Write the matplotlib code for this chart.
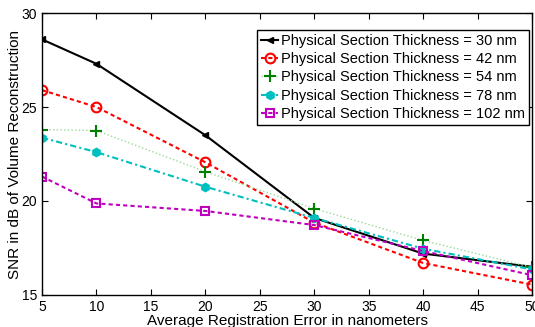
import matplotlib
matplotlib.use("Agg")
import matplotlib.pyplot as plt

plt.rcParams['font.family'] = ['Liberation Sans', 'DejaVu Sans']

errors = [5, 10, 20, 30, 40, 50]
snr_30 = [28.6, 27.3, 23.5, 19.1, 17.2, 16.5]
snr_42 = [25.9, 25.0, 22.06, 18.85, 16.7, 15.55]
snr_54 = [23.8, 23.75, 21.56, 19.6, 17.9, 16.47]
snr_78 = [23.37, 22.6, 20.76, 19.1, 17.46, 16.36]
snr_102 = [21.3, 19.87, 19.47, 18.72, 17.34, 16.05]
labels = ["Physical Section Thickness = 30 nm",
          "Physical Section Thickness = 42 nm",
          "Physical Section Thickness = 54 nm",
          "Physical Section Thickness = 78 nm",
          "Physical Section Thickness = 102 nm"]

fig = plt.figure(figsize=(5.35, 3.27), dpi=100)
ax = fig.add_axes([0.0785, 0.098, 0.916, 0.862])

ax.plot(errors, snr_30, color='black', linestyle='-', linewidth=1.5,
        marker='<', markersize=4, label=labels[0])
ax.plot(errors, snr_42, color='red', linestyle=(0, (2, 1.5)), linewidth=1.5,
        marker='o', markersize=7, markerfacecolor='none', markeredgewidth=1.5,
        label=labels[1])
ax.plot(errors, snr_54, color=(0.6, 0.85, 0.6), linestyle=':', linewidth=1.0,
        marker='+', markersize=8, markeredgecolor=(0.0, 0.5, 0.0),
        markeredgewidth=1.5, label=labels[2])
ax.plot(errors, snr_78, color=(0.0, 0.75, 0.75), linestyle=(0, (3, 1.5, 1, 1.5)),
        linewidth=1.5, marker='h', markersize=6, label=labels[3])
ax.plot(errors, snr_102, color=(0.75, 0.0, 0.75), linestyle=(0, (2, 1.5)),
        linewidth=1.5, marker='s', markersize=6, markerfacecolor='none',
        markeredgewidth=1.5, label=labels[4])

ax.set_xlim(5, 50)
ax.set_ylim(15, 30)
ax.set_xticks(range(5, 51, 5))
ax.set_yticks([15, 20, 25, 30])
ax.tick_params(direction='in', top=True, right=True, labelsize=10, length=4)
for s in ax.spines.values():
    s.set_linewidth(1.0)
ax.set_xlabel("Average Registration Error in nanometers", fontsize=11, labelpad=0)
ax.set_ylabel("SNR in dB of Volume Reconstruction", fontsize=11, labelpad=0)

leg = ax.legend(loc='upper right', bbox_to_anchor=(529 / 535, 1 - 30 / 327),
                bbox_transform=fig.transFigure, fontsize=10.5, handlelength=1.2,
                handletextpad=0.2, borderpad=0.25, labelspacing=0.3,
                borderaxespad=0, fancybox=False, framealpha=1, edgecolor='black')
leg.get_frame().set_linewidth(1.0)

fig.savefig("out.png", dpi=100)
